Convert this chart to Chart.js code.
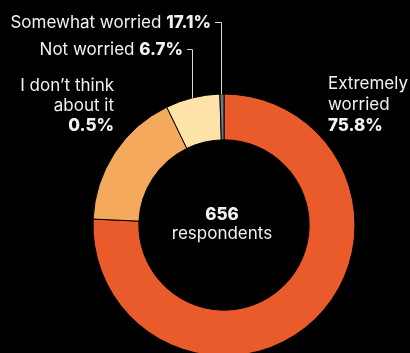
<!DOCTYPE html>
<html><head><meta charset="utf-8">
<script src="https://cdn.jsdelivr.net/npm/chart.js@4"></script>
<style>
html,body{margin:0;padding:0;background:#000;overflow:hidden;width:410px;height:353px}
#wrap{position:absolute;left:0;top:0;width:410px;height:450px}
</style>
</head><body>
<div id="wrap"><canvas id="c"></canvas></div>
<script>
// ---- data ----
const categories = ["Extremely worried", "Somewhat worried", "Not worried", "I don’t think about it"];
const values = [75.8, 17.1, 6.7, 0.5];
const valueLabels = ["75.8%", "17.1%", "6.7%", "0.5%"];
const centerNumber = "656";
const centerCaption = "respondents";
const colors = ["#E95B2A", "#F5A95C", "#FEE3A9", "#6E7782"];

// ---- label layout (as in the original graphic) ----
const FONT = "Inter, 'Open Sans', sans-serif";
const labelLayout = [
  { cat: 0, lines: ["Extremely", "worried"], align: "left", x: 328, y: 89, lh: 21 },
  { cat: 1, inline: true, align: "right", x: 211, y: 28, leaderArc: 3 },
  { cat: 2, inline: true, align: "right", x: 183, y: 55, leaderArc: 2 },
  { cat: 3, lines: ["I don’t think", "about it"], align: "right", x: 114, y: 91, lh: 20 }
];

const labelPlugin = {
  id: "labels",
  afterDraw(chart) {
    const ctx = chart.ctx;
    const meta = chart.getDatasetMeta(0);
    ctx.save();
    ctx.fillStyle = "#f2f2f2";
    ctx.textBaseline = "alphabetic";
    const reg = "400 17px " + FONT;
    const bold = "800 17px " + FONT;
    labelLayout.forEach(L => {
      if (L.inline) {
        ctx.font = bold;
        ctx.textAlign = "right";
        const vw = ctx.measureText(valueLabels[L.cat]).width;
        ctx.fillText(valueLabels[L.cat], L.x, L.y);
        ctx.font = reg;
        const sw = ctx.measureText(" ").width;
        ctx.fillText(categories[L.cat], L.x - vw - sw, L.y);
        // leader line to arc
        const arc = meta.data[L.leaderArc];
        const mid = (arc.startAngle + arc.endAngle) / 2;
        const ax = Math.round(arc.x + arc.outerRadius * Math.cos(mid)) - 0.5;
        const ay = arc.y + arc.outerRadius * Math.sin(mid);
        const ly = Math.round(L.y - 6) + 0.5;
        ctx.strokeStyle = "#d8d8d8";
        ctx.lineWidth = 1;
        ctx.beginPath();
        ctx.moveTo(L.x + 4, ly);
        ctx.lineTo(ax, ly);
        ctx.lineTo(ax, ay);
        ctx.stroke();
      } else {
        ctx.textAlign = L.align;
        ctx.font = reg;
        L.lines.forEach((t, i) => ctx.fillText(t, L.x, L.y + i * L.lh));
        ctx.font = bold;
        ctx.fillText(valueLabels[L.cat], L.x, L.y + L.lines.length * L.lh);
      }
    });
    // centre text
    const a0 = meta.data[0];
    ctx.textAlign = "center";
    ctx.font = bold;
    ctx.fillText(centerNumber, a0.x - 2, 220);
    ctx.font = reg;
    ctx.fillText(centerCaption, a0.x - 2, 239);
    ctx.restore();
  }
};

new Chart(document.getElementById("c"), {
  type: "doughnut",
  data: {
    labels: categories,
    datasets: [{
      data: values,
      backgroundColor: colors,
      borderColor: "#000",
      borderWidth: 1
    }]
  },
  options: {
    responsive: true,
    maintainAspectRatio: false,
    animation: false,
    radius: 131,
    cutout: "65%",
    layout: { padding: { left: 38 } },
    plugins: { legend: { display: false }, tooltip: { enabled: false } }
  },
  plugins: [labelPlugin]
});
</script>
</body></html>
